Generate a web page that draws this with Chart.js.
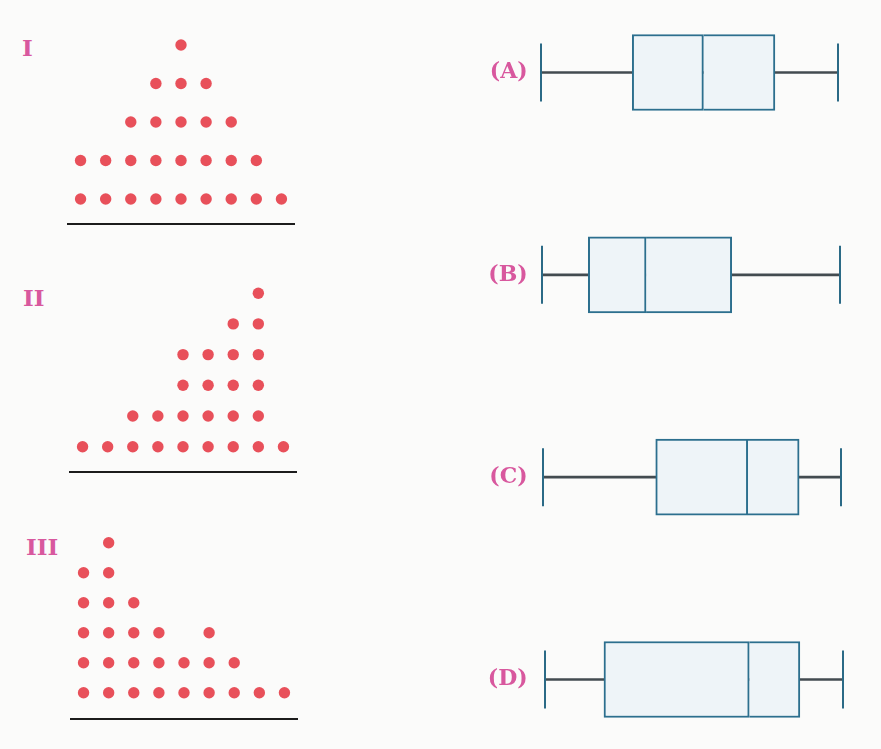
<!DOCTYPE html>
<html>
<head>
<meta charset="utf-8">
<script src="https://cdn.jsdelivr.net/npm/chart.js@4.4.1/dist/chart.umd.min.js"></script>
<style>
  html, body { margin:0; padding:0; background:#fbfbfa; }
  #page { position:relative; width:881px; height:749px; overflow:hidden; background:#fbfbfa; }
  canvas { position:absolute; }
  .roman { position:absolute; font-family:"DejaVu Serif", serif; font-weight:bold; font-size:23px; line-height:23px; color:#d8589e; }
</style>
</head>
<body>
<div id="page">
  <div class="roman" style="left:22px; top:36px;">I</div>
  <div class="roman" style="left:23px; top:286px;">II</div>
  <div class="roman" style="left:26px; top:535px;">III</div>
  <canvas id="dot1" style="left:0; top:0;" width="440" height="250"></canvas>
  <canvas id="dot2" style="left:0; top:250px;" width="440" height="250"></canvas>
  <canvas id="dot3" style="left:0; top:500px;" width="440" height="250"></canvas>
  <canvas id="boxes" style="left:440px; top:0;" width="441" height="749"></canvas>
</div>
<script>
// dot plots: number of dots stacked on each of the 9 values
const dotValues = [1, 2, 3, 4, 5, 6, 7, 8, 9];
const countsI   = [2, 2, 3, 4, 5, 4, 3, 2, 1];
const countsII  = [1, 1, 2, 2, 4, 4, 5, 6, 1];
const countsIII = [5, 6, 4, 3, 2, 3, 2, 1, 1];

// box plots (same 1..9 scale)
const boxLabels = ['(A)', '(B)', '(C)', '(D)'];
const boxMin    = [0.99, 1.03, 1.06, 1.11];
const boxQ1     = [3.45, 2.27, 4.08, 2.69];
const boxMedian = [5.36, 3.82, 6.55, 6.59];
const boxQ3     = [7.28, 6.12, 7.93, 7.95];
const boxMax    = [8.98, 9.03, 9.05, 9.10];

const DOT_RED = '#e8505a';
const BOX_EDGE = '#2c6f8e';

function stackPoints(counts){
  const pts = [];
  counts.forEach((n, i) => {
    for (let k = 1; k <= n; k++) pts.push({ x: dotValues[i], y: k });
  });
  return pts;
}

function dotPlot(id, counts, yMin, yMax, pad){
  new Chart(document.getElementById(id), {
    type: 'scatter',
    data: { datasets: [{ data: stackPoints(counts), pointRadius: 5.7, pointHoverRadius: 5.7,
      backgroundColor: DOT_RED, borderColor: DOT_RED, borderWidth: 0, clip: false }] },
    options: {
      responsive: false, animation: false, events: [],
      layout: { padding: pad },
      plugins: { legend: { display: false }, tooltip: { enabled: false } },
      scales: {
        x: { type: 'linear', min: 0.5, max: 9.5,
             grid: { display: false, drawTicks: false },
             ticks: { display: false },
             border: { display: true, color: '#1c1c1c', width: 2 },
             afterFit: a => { a.height = 0; } },
        y: { type: 'linear', min: yMin, max: yMax, display: false }
      }
    }
  });
}

dotPlot('dot1', countsI,   0.35,  5.39,  { left: 68, right: 146, top: 30, bottom: 26 });
dotPlot('dot2', countsII,  0.186, 6.43,  { left: 70, right: 144, top: 30, bottom: 28.3 });
dotPlot('dot3', countsIII, 0.123, 6.423, { left: 71, right: 143, top: 30, bottom: 31 });

// whisker end caps, placed with the chart's own scales
const capPlugin = {
  id: 'caps',
  afterDatasetsDraw(chart){
    const { ctx, scales: { x, y } } = chart;
    ctx.save();
    ctx.strokeStyle = '#2b6a86';
    ctx.lineWidth = 2;
    boxLabels.forEach((lab, i) => {
      const cy = y.getPixelForValue(i);
      [boxMin[i], boxMax[i]].forEach(v => {
        const px = Math.round(x.getPixelForValue(v));
        ctx.beginPath();
        ctx.moveTo(px, cy - 29);
        ctx.lineTo(px, cy + 29);
        ctx.stroke();
      });
    });
    ctx.restore();
  }
};

new Chart(document.getElementById('boxes'), {
  type: 'bar',
  data: {
    labels: boxLabels,
    datasets: [
      { data: boxQ1.map((q, i) => [q, boxMedian[i]]), barThickness: 76,
        backgroundColor: '#eef4f8', borderColor: BOX_EDGE, borderWidth: 2, borderSkipped: false },
      { data: boxMedian.map((m, i) => [m, boxQ3[i]]), barThickness: 76,
        backgroundColor: '#eef4f8', borderColor: BOX_EDGE, borderWidth: 2, borderSkipped: 'left' },
      { data: boxMin.map((m, i) => [m, boxMax[i]]), barThickness: 2,
        backgroundColor: '#434b50', borderWidth: 0 }
    ]
  },
  options: {
    indexAxis: 'y', responsive: false, animation: false, events: [],
    datasets: { bar: { grouped: false, clip: false } },
    layout: { padding: { left: 0, right: 32.7, top: 72.5, bottom: 69.5 } },
    plugins: { legend: { display: false }, tooltip: { enabled: false } },
    scales: {
      x: { type: 'linear', min: 0.75, max: 9.25, display: false },
      y: { type: 'category', offset: false,
           grid: { display: false, drawTicks: false },
           border: { display: false },
           ticks: { color: '#d8589e', padding: 4,
                    font: { family: '"DejaVu Serif", serif', weight: 'bold', size: 22 } },
           afterFit: a => { a.width = 91.7; } }
    }
  },
  plugins: [capPlugin]
});
</script>
</body>
</html>
